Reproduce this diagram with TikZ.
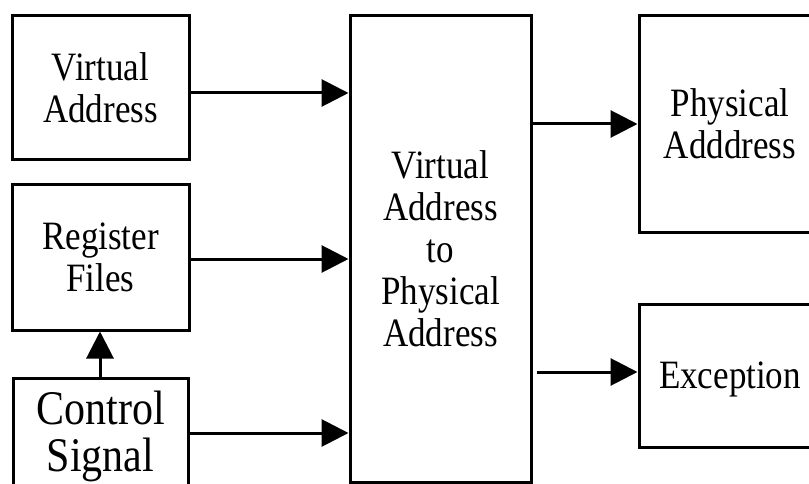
\documentclass[tikz,border=0pt]{standalone}
\usepackage{graphicx}
\usepackage{fontspec}
\setmainfont{Liberation Serif}
\usetikzlibrary{arrows.meta}
% slightly tall multi-line label, set a little low in its box
\newcommand\talltext[1]{\raisebox{-5pt}[\height][\depth]{\scalebox{1}[1.15]{\begin{tabular}{@{}c@{}}#1\end{tabular}}}}
\begin{document}
\begin{tikzpicture}[x=1pt,y=-1pt,
  blk/.style={draw, line width=3pt, inner sep=0pt, font=\fontsize{35}{36.5}\selectfont},
  bigtext/.style={font=\fontsize{42}{39}\selectfont},
  arr/.style={line width=3pt, -{Triangle[length=27pt,width=27pt]}}]
\useasboundingbox (0,0) rectangle (809,484);
\clip (0,0) rectangle (809,484);

% input blocks
\node[blk, minimum width=177pt, minimum height=144pt] (va) at (100.5,88) {\talltext{Virtual\\Address}};
\node[blk, minimum width=177pt, minimum height=145pt] (rf) at (100.5,257.5) {\talltext{Register\\Files}};
\node[blk, bigtext, minimum width=175pt, minimum height=110pt] (cs) at (100.5,433) {\talltext{Control\\Signal}};

% translation block
\node[blk, minimum width=181pt, minimum height=466pt] (mid) at (440.5,249) {\talltext{Virtual\\Address\\to\\Physical\\Address}};

% output blocks
\node[blk, minimum width=182pt, minimum height=216pt] (pa) at (730,124) {\talltext{Physical\\Adddress}};
\node[blk, minimum width=182pt, minimum height=143pt] (ex) at (730,375.5) {\talltext{Exception}};

% connectors
\draw[arr] (va.east |- 0,93) -- (mid.west |- 0,93);
\draw[arr] (rf.east |- 0,259) -- (mid.west |- 0,259);
\draw[arr] (cs.east |- 0,433) -- (mid.west |- 0,433);
\draw[arr] (cs.north -| 100,0) -- (rf.south -| 100,0);
\draw[arr] (mid.east |- 0,124) -- (pa.west |- 0,124);
\coordinate (exstart) at ([xshift=4pt]mid.east |- 0,372);
\draw[arr] (exstart) -- (ex.west |- 0,372);
\end{tikzpicture}
\end{document}
